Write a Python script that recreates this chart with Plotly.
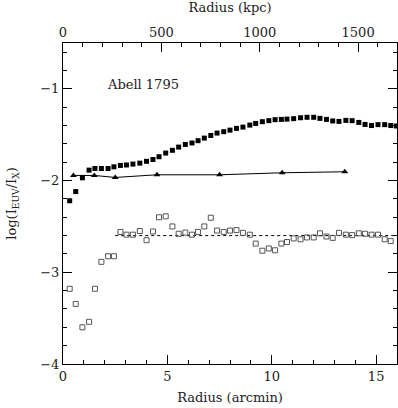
import plotly.graph_objects as go

# radius in arcmin for the profile bins
radius = [0.32, 0.61, 0.93, 1.25, 1.53, 1.84, 2.16, 2.44, 2.75, 3.04, 3.35, 3.68, 4.00,
          4.31, 4.60, 4.92, 5.24, 5.54, 5.86, 6.18, 6.47, 6.77, 7.08, 7.38, 7.70, 8.00,
          8.31, 8.62, 8.95, 9.23, 9.55, 9.86, 10.16, 10.46, 10.73, 11.05, 11.38, 11.69,
          12.01, 12.31, 12.62, 12.92, 13.22, 13.55, 13.85, 14.17, 14.47, 14.78, 15.09,
          15.41, 15.70, 15.97]

# filled squares
log_ratio_filled = [-2.22, -2.12, -1.97, -1.886, -1.868, -1.868, -1.868, -1.85, -1.835,
                    -1.83, -1.82, -1.81, -1.79, -1.77, -1.74, -1.70, -1.67, -1.635, -1.606,
                    -1.59, -1.565, -1.537, -1.508, -1.482, -1.467, -1.45, -1.431, -1.417,
                    -1.395, -1.377, -1.358, -1.347, -1.336, -1.333, -1.33, -1.325, -1.315,
                    -1.31, -1.31, -1.322, -1.333, -1.35, -1.355, -1.344, -1.347, -1.366,
                    -1.388, -1.40, -1.39, -1.39, -1.40, -1.405]

# open squares (one fewer point)
log_ratio_open = [-3.18, -3.345, -3.60, -3.54, -3.18, -2.886, -2.825, -2.825, -2.56, -2.59,
                  -2.59, -2.55, -2.65, -2.555, -2.40, -2.39, -2.50, -2.58, -2.567, -2.59,
                  -2.56, -2.50, -2.405, -2.545, -2.56, -2.545, -2.54, -2.57, -2.59, -2.687,
                  -2.765, -2.74, -2.76, -2.687, -2.67, -2.63, -2.64, -2.62, -2.62, -2.575,
                  -2.61, -2.625, -2.57, -2.59, -2.595, -2.575, -2.58, -2.59, -2.59, -2.64,
                  -2.66]

# triangles joined by a line
tri_radius = [0.5, 1.5, 2.5, 4.5, 7.5, 10.5, 13.5]
tri_ratio = [-1.944, -1.944, -1.966, -1.937, -1.937, -1.915, -1.904]

# dotted mean level
mean_x = [2.5, 16.0]
mean_y = [-2.6, -2.6]

KPC_PER_ARCMIN = 106.1
XMAX = 16.0

font = dict(family="DejaVu Serif", size=13, color="#222222")

fig = go.Figure()
fig.add_trace(go.Scatter(x=mean_x, y=mean_y, mode="lines",
                         line=dict(color="black", width=1, dash="dot")))
fig.add_trace(go.Scatter(x=tri_radius, y=tri_ratio, mode="lines+markers",
                         line=dict(color="black", width=1),
                         marker=dict(symbol="triangle-up", size=6, color="black")))
fig.add_trace(go.Scatter(x=radius, y=log_ratio_filled, mode="markers",
                         marker=dict(symbol="square", size=5, color="black")))
fig.add_trace(go.Scatter(x=radius[:len(log_ratio_open)], y=log_ratio_open, mode="markers",
                         marker=dict(symbol="square-open", size=5, color="#555555",
                                     line=dict(width=1))))
# dummy trace so the kpc axis is drawn
fig.add_trace(go.Scatter(x=[0, XMAX * KPC_PER_ARCMIN], y=[None, None], xaxis="x2",
                         mode="markers", hoverinfo="skip"))

fig.add_annotation(x=2.0, y=-0.95, text="Abell 1795", showarrow=False,
                   xanchor="left", yanchor="middle", font=font)

fig.update_layout(
    width=398, height=408,
    margin=dict(l=63, r=1, t=43, b=44),
    paper_bgcolor="white", plot_bgcolor="white",
    showlegend=False,
    font=font,
    xaxis=dict(range=[0, XMAX], tickvals=[0, 5, 10, 15], ticks="inside", ticklen=9,
               tickcolor="black", showline=True, linecolor="black", linewidth=1,
               showgrid=False, zeroline=False,
               minor=dict(dtick=1, ticks="inside", ticklen=4, tickcolor="black", showgrid=False),
               title=dict(text="Radius (arcmin)", font=font, standoff=10)),
    xaxis2=dict(overlaying="x", side="top", range=[0, XMAX * KPC_PER_ARCMIN],
                tickvals=[0, 500, 1000, 1500], ticks="inside", ticklen=9,
                tickcolor="black", showline=True, linecolor="black", linewidth=1,
                showgrid=False, zeroline=False,
                minor=dict(dtick=100, ticks="inside", ticklen=4, tickcolor="black", showgrid=False),
                title=dict(text="Radius (kpc)", font=font, standoff=10)),
    yaxis=dict(range=[-4, -0.5], tickvals=[-4, -3, -2, -1], ticks="inside", ticklen=9,
               tickcolor="black", showline=True, linecolor="black", linewidth=1,
               mirror="ticks", showgrid=False, zeroline=False,
               minor=dict(dtick=0.2, ticks="inside", ticklen=4, tickcolor="black", showgrid=False),
               title=dict(text="log(I<sub>EUV</sub>/I<sub>X</sub>)", font=font, standoff=20)),
)

# drop the default page margin so the figure sits at the window corner
fig.write_html("out.html", config={"displayModeBar": False},
               post_script="document.body.style.margin='0';")
